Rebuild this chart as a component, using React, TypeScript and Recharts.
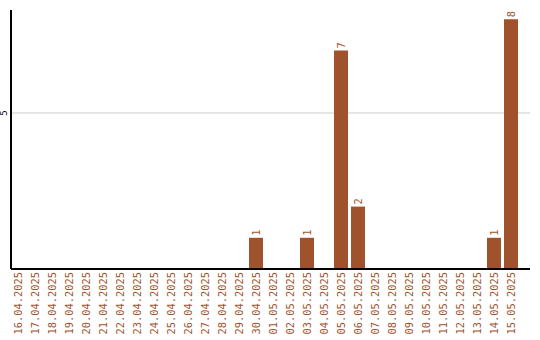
import React from 'react';
import { BarChart, Bar, XAxis, YAxis, CartesianGrid, LabelList } from 'recharts';

// daily counts, 16.04.2025 – 15.05.2025
const days = [
  '16.04.2025', '17.04.2025', '18.04.2025', '19.04.2025', '20.04.2025',
  '21.04.2025', '22.04.2025', '23.04.2025', '24.04.2025', '25.04.2025',
  '26.04.2025', '27.04.2025', '28.04.2025', '29.04.2025', '30.04.2025',
  '01.05.2025', '02.05.2025', '03.05.2025', '04.05.2025', '05.05.2025',
  '06.05.2025', '07.05.2025', '08.05.2025', '09.05.2025', '10.05.2025',
  '11.05.2025', '12.05.2025', '13.05.2025', '14.05.2025', '15.05.2025',
];
const counts = [
  0, 0, 0, 0, 0, 0, 0, 0, 0, 0, 0, 0, 0, 0, 1,
  0, 0, 1, 0, 7, 2, 0, 0, 0, 0, 0, 0, 0, 1, 8,
];
const yTicks = [5];

const BROWN = '#a0522d';
const FONT = '"DejaVu Sans Mono", monospace';

const data = days.map((day, i) => ({ day, count: counts[i] }));

const DayTick = (props: any) => {
  const { x, y, payload } = props;
  return (
    <text
      transform={`translate(${x + 4},${y - 5}) rotate(-90)`}
      textAnchor="end"
      fill={BROWN}
      fontSize={10.4}
      fontFamily={FONT}
    >
      {payload.value}
    </text>
  );
};

const CountTick = (props: any) => {
  const { y, payload } = props;
  return (
    <text
      transform={`translate(7,${y}) rotate(-90)`}
      textAnchor="middle"
      fill="#000"
      fontSize={9}
      fontFamily={FONT}
    >
      {payload.value}
    </text>
  );
};

const BarValue = (props: any) => {
  const { x, y, width, value } = props;
  if (!value) return null;
  return (
    <text
      transform={`translate(${x + width / 2 + 4},${y - 2}) rotate(-90)`}
      textAnchor="start"
      fill={BROWN}
      fontSize={10.4}
      fontFamily={FONT}
    >
      {value}
    </text>
  );
};

export default function App() {
  return (
    <div style={{ position: 'absolute', left: 0, top: 0, width: 540, height: 340, background: '#fff' }}>
      <BarChart
        width={540}
        height={340}
        data={data}
        margin={{ top: 10, right: 10, bottom: 0, left: 0 }}
      >
        <CartesianGrid vertical={false} stroke="#cccccc" syncWithTicks />
        <XAxis
          dataKey="day"
          interval={0}
          height={71}
          padding={{ left: -2, right: 11 }}
          axisLine={{ stroke: '#000', strokeWidth: 2 }}
          tickLine={false}
          tick={<DayTick />}
        />
        <YAxis
          width={11}
          domain={[0, 8.3]}
          ticks={yTicks}
          axisLine={{ stroke: '#000', strokeWidth: 2 }}
          tickLine={false}
          tick={<CountTick />}
        />
        <Bar dataKey="count" fill={BROWN} barSize={14} isAnimationActive={false}>
          <LabelList dataKey="count" content={<BarValue />} />
        </Bar>
      </BarChart>
    </div>
  );
}
